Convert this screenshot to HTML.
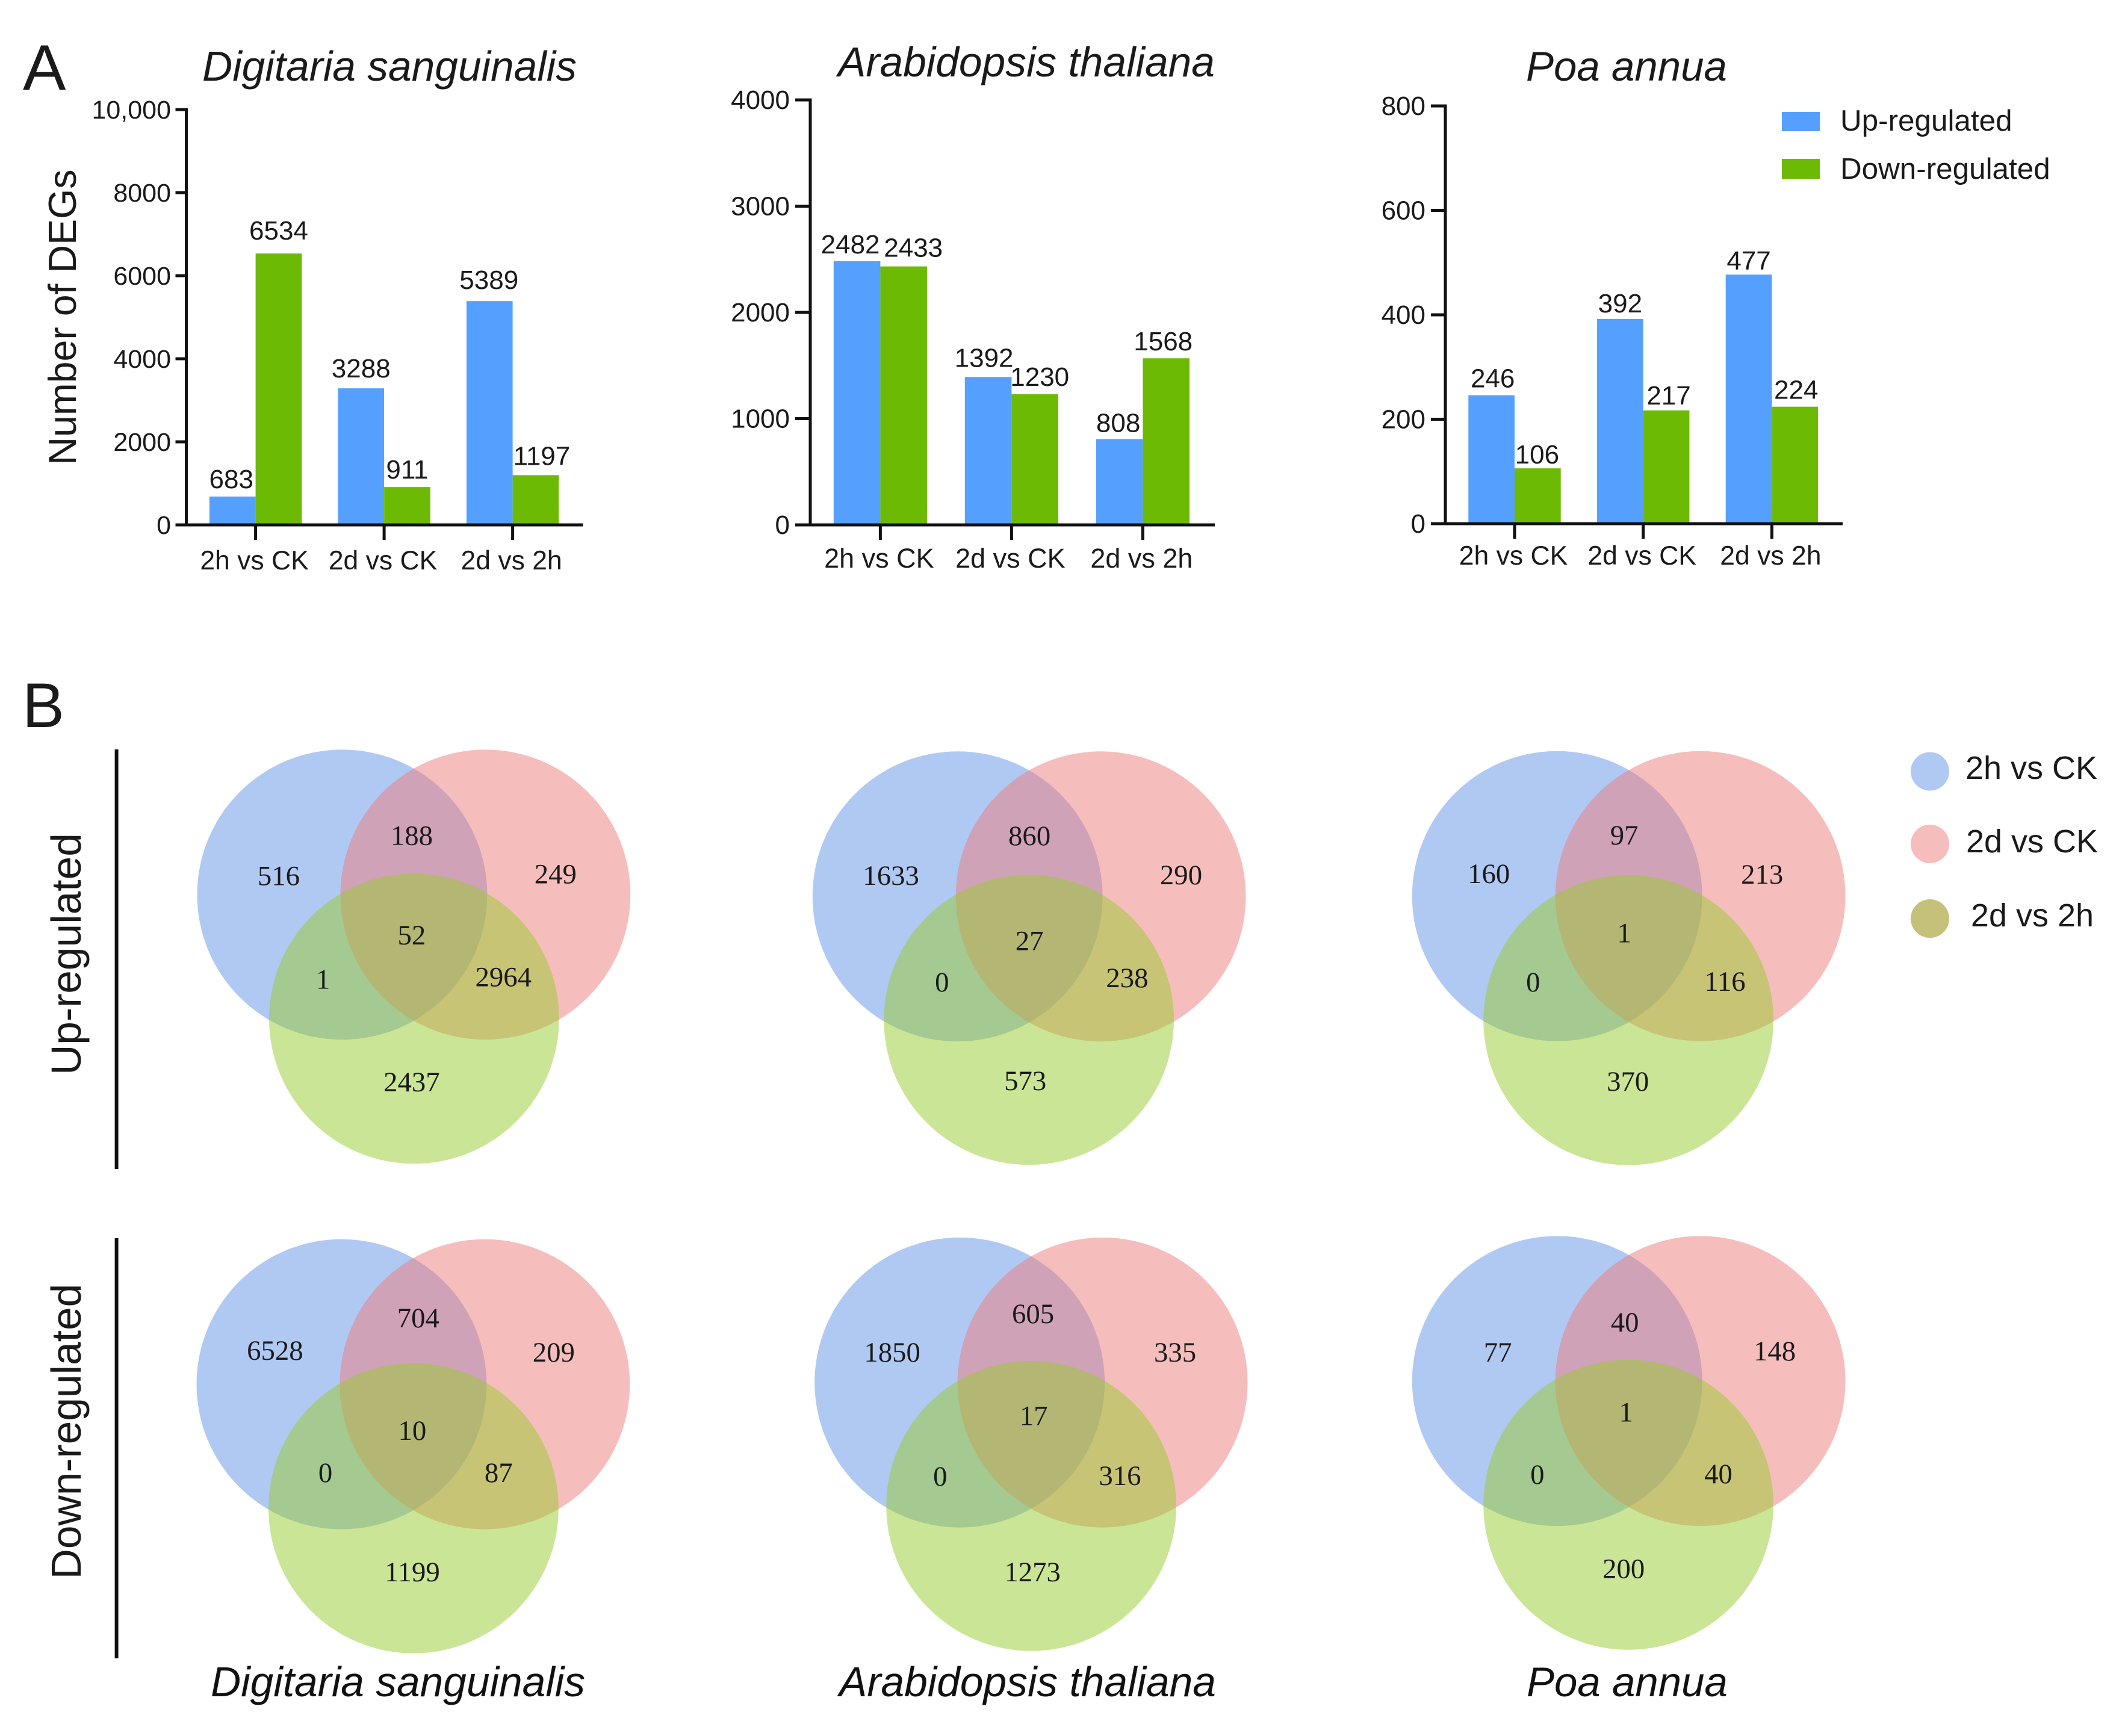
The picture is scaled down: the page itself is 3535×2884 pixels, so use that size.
<!DOCTYPE html>
<html lang="en">
<head>
<meta charset="utf-8">
<title>DEG counts and Venn diagrams</title>
<style>
html,body{margin:0;padding:0;background:#fff;}
svg{display:block;}
text{font-family:"Liberation Sans",Arial,sans-serif;fill:#1a1a1a;}
.it{font-style:italic;font-size:69.5px;fill:#111;}
.n{font-family:"Liberation Serif","Times New Roman",serif;font-size:47px;text-anchor:middle;fill:#1a1a1a;transform:translateY(-2px);}
.b{fill:#6193e7;fill-opacity:.5;}
.r{fill:#ed7b7b;fill-opacity:.5;}
.g{fill:#97cb2f;fill-opacity:.5;}
</style>
</head>
<body>
<svg id="fig" xmlns="http://www.w3.org/2000/svg" width="3535" height="2884" viewBox="0 0 3535 2884">
<rect width="3535" height="2884" fill="#fff"/>

<text x="38" y="149" font-size="107" fill="#111">A</text>
<text x="37" y="1208" font-size="105" fill="#111">B</text>

<g id="bars"></g>

<g>
<rect x="2960" y="186" width="63" height="32" fill="#55a0fe"/>
<text x="3057" y="217" font-size="49.4">Up-regulated</text>
<rect x="2960" y="264" width="63" height="33" fill="#6dba05"/>
<text x="3057" y="297" font-size="49.4">Down-regulated</text>
</g>

<line x1="193.6" y1="1245" x2="193.6" y2="1942" stroke="#111" stroke-width="6"/>
<text transform="translate(134,1585) rotate(-90)" font-size="69.5" text-anchor="middle">Up-regulated</text>
<line x1="193.6" y1="2057" x2="193.6" y2="2755" stroke="#111" stroke-width="6"/>
<text transform="translate(134,2378) rotate(-90)" font-size="69.5" text-anchor="middle">Down-regulated</text>

<g transform="translate(0,1100) scale(.9955) translate(0,-1100)">
<circle class="b" cx="571" cy="1488" r="242"/>
<circle class="r" cx="810" cy="1488" r="242"/>
<circle class="g" cx="691" cy="1695" r="242"/>
<text class="n" x="465" y="1474">516</text>
<text class="n" x="687" y="1407">188</text>
<text class="n" x="927" y="1471">249</text>
<text class="n" x="687" y="1573">52</text>
<text class="n" x="539" y="1647">1</text>
<text class="n" x="840" y="1643">2964</text>
<text class="n" x="687" y="1818">2437</text>
</g>

<g transform="translate(1300,1200) scale(.9955) translate(-1300,-1200)">
<circle class="b" cx="1592" cy="1490.5" r="242"/>
<circle class="r" cx="1831" cy="1490.5" r="242"/>
<circle class="g" cx="1711" cy="1696.5" r="242"/>
<text class="n" x="1481" y="1473">1633</text>
<text class="n" x="1712" y="1407">860</text>
<text class="n" x="1965" y="1472">290</text>
<text class="n" x="1712" y="1582">27</text>
<text class="n" x="1566" y="1651">0</text>
<text class="n" x="1875" y="1644">238</text>
<text class="n" x="1705" y="1816">573</text>
</g>

<g transform="translate(2300,1200) scale(.9955) translate(-2300,-1200)">
<circle class="b" cx="2588" cy="1490" r="242"/>
<circle class="r" cx="2827" cy="1490" r="242"/>
<circle class="g" cx="2707" cy="1697" r="242"/>
<text class="n" x="2474" y="1470">160</text>
<text class="n" x="2700" y="1406">97</text>
<text class="n" x="2930" y="1471">213</text>
<text class="n" x="2700" y="1569">1</text>
<text class="n" x="2548" y="1651">0</text>
<text class="n" x="2868" y="1650">116</text>
<text class="n" x="2706" y="1817">370</text>
</g>

<g transform="translate(0,2000) scale(.9955) translate(0,-2000)">
<circle class="b" cx="570" cy="2301" r="242"/>
<circle class="r" cx="809" cy="2301" r="242"/>
<circle class="g" cx="690" cy="2508" r="242"/>
<text class="n" x="459" y="2262">6528</text>
<text class="n" x="698" y="2208">704</text>
<text class="n" x="924" y="2265">209</text>
<text class="n" x="688" y="2396">10</text>
<text class="n" x="543" y="2466">0</text>
<text class="n" x="832" y="2466">87</text>
<text class="n" x="688" y="2632">1199</text>
</g>

<g transform="translate(1300,2020) scale(.9955) translate(-1300,-2020)">
<circle class="b" cx="1595.5" cy="2298" r="242"/>
<circle class="r" cx="1834" cy="2298" r="242"/>
<circle class="g" cx="1715" cy="2504" r="242"/>
<text class="n" x="1483" y="2265">1850</text>
<text class="n" x="1718" y="2201">605</text>
<text class="n" x="1955" y="2265">335</text>
<text class="n" x="1719" y="2371">17</text>
<text class="n" x="1563" y="2472">0</text>
<text class="n" x="1863" y="2471">316</text>
<text class="n" x="1717" y="2632">1273</text>
</g>

<g transform="translate(2300,2020) scale(.9955) translate(-2300,-2020)">
<circle class="b" cx="2588" cy="2295.5" r="242"/>
<circle class="r" cx="2827" cy="2295.5" r="242"/>
<circle class="g" cx="2707" cy="2502" r="242"/>
<text class="n" x="2489" y="2265">77</text>
<text class="n" x="2701" y="2215">40</text>
<text class="n" x="2951" y="2263">148</text>
<text class="n" x="2703" y="2365">1</text>
<text class="n" x="2555" y="2469">0</text>
<text class="n" x="2857" y="2468">40</text>
<text class="n" x="2699" y="2626">200</text>
</g>

<g>
<circle cx="3206" cy="1281.5" r="32" fill="#b0c9f3"/>
<text x="3374.5" y="1294" font-size="54" text-anchor="middle">2h vs CK</text>
<circle cx="3206" cy="1402" r="32" fill="#f6bdbd"/>
<text x="3375.5" y="1416" font-size="54" text-anchor="middle">2d vs CK</text>
<circle cx="3206" cy="1526" r="32" fill="#c5c17a"/>
<text x="3376" y="1539" font-size="54" text-anchor="middle">2d vs 2h</text>
</g>

<text class="it" x="350" y="2818">Digitaria sanguinalis</text>
<text class="it" x="1394" y="2818">Arabidopsis thaliana</text>
<text class="it" x="2536" y="2818" style="font-size:69px">Poa annua</text>
</svg>

<script>
const categories = ['2h vs CK', '2d vs CK', '2d vs 2h'];

const digitariaUp = [683, 3288, 5389];
const digitariaDown = [6534, 911, 1197];
const digitariaTicks = [0, 2000, 4000, 6000, 8000, 10000];
const digitariaTickLabels = ['0', '2000', '4000', '6000', '8000', '10,000'];

const arabidopsisUp = [2482, 1392, 808];
const arabidopsisDown = [2433, 1230, 1568];
const arabidopsisTicks = [0, 1000, 2000, 3000, 4000];
const arabidopsisTickLabels = ['0', '1000', '2000', '3000', '4000'];

const poaUp = [246, 392, 477];
const poaDown = [106, 217, 224];
const poaTicks = [0, 200, 400, 600, 800];
const poaTickLabels = ['0', '200', '400', '600', '800'];

/* Layout only: frame geometry and hand placement of printed labels. */
const panels = [
  { key: 'digitaria', title: 'Digitaria sanguinalis', titleX: 336, titleY: 134, titleSize: 69.5,
    up: digitariaUp, down: digitariaDown, ticks: digitariaTicks, tickLabels: digitariaTickLabels,
    axisX: 309.5, axisEnd: 968.5, tickLeft: 291.5, tickLabelX: 284, tickSize: 43,
    yBase: 872, yTop: 182, firstGroup: 424.6, groupStep: 213.5, barW: 76.7, catY: 946, catSize: 44.5,
    upDx: [-2, 0, -1], upGap: [14, 18, 20], downDx: [0, 0, 10], downGap: [23, 14, 17] },
  { key: 'arabidopsis', title: 'Arabidopsis thaliana', titleX: 1392, titleY: 127, titleSize: 69.5,
    up: arabidopsisUp, down: arabidopsisDown, ticks: arabidopsisTicks, tickLabels: arabidopsisTickLabels,
    axisX: 1346, axisEnd: 2018, tickLeft: 1321, tickLabelX: 1312, tickSize: 44,
    yBase: 872, yTop: 166, firstGroup: 1462.4, groupStep: 218, barW: 77.6, catY: 943, catSize: 45,
    upDx: [-11, -7, -2], upGap: [13, 17, 12], downDx: [16, 8, -5], downGap: [16, 14, 13] },
  { key: 'poa', title: 'Poa annua', titleX: 2535, titleY: 134, titleSize: 69,
    up: poaUp, down: poaDown, ticks: poaTicks, tickLabels: poaTickLabels,
    axisX: 2401, axisEnd: 3061, tickLeft: 2377, tickLabelX: 2368, tickSize: 44,
    yBase: 870, yTop: 176, firstGroup: 2516, groupStep: 213.7, barW: 76.7, catY: 938, catSize: 44.5,
    upDx: [2, 0, 0], upGap: [13, 11, 8], downDx: [-1, 4, 2], downGap: [8, 10, 13] }
];

const SVGNS = 'http://www.w3.org/2000/svg';
const AXIS_COLOR = '#111';
const AXIS_W = 5;
const UP_COLOR = '#55a0fe';
const DOWN_COLOR = '#6dba05';
const root = document.getElementById('bars');

function node(tag, parent, attrs, content) {
  const n = document.createElementNS(SVGNS, tag);
  Object.keys(attrs).forEach(function (k) { n.setAttribute(k, attrs[k]); });
  if (content !== undefined) n.textContent = content;
  parent.appendChild(n);
  return n;
}

function drawPanel(p) {
  const g = node('g', root, {});
  
  

  const maxTick = p.ticks[p.ticks.length - 1];
  const yScale = function (v) { return p.yBase - (v / maxTick) * (p.yBase - p.yTop); };
  const xScale = function (i) { return p.firstGroup + i * p.groupStep; };

  const title = node('text', g, { x: p.titleX, y: p.titleY, 'font-size': p.titleSize, 'font-style': 'italic', fill: '#111' }, p.title);
  
  

  categories.forEach(function (cat, i) {
    const cx = xScale(i);

    const upY = yScale(p.up[i]);
    const upBar = node('rect', g, { x: cx - p.barW, y: upY, width: p.barW, height: p.yBase - upY, fill: UP_COLOR });
    
    

    const downY = yScale(p.down[i]);
    const downBar = node('rect', g, { x: cx, y: downY, width: p.barW, height: p.yBase - downY, fill: DOWN_COLOR });
    
    

    const upText = node('text', g, { x: cx - p.barW / 2 + p.upDx[i], y: upY - p.upGap[i], 'font-size': 44, 'text-anchor': 'middle' }, String(p.up[i]));
    
    

    const downText = node('text', g, { x: cx + p.barW / 2 + p.downDx[i], y: downY - p.downGap[i], 'font-size': 44, 'text-anchor': 'middle' }, String(p.down[i]));
    
    

    const xTick = node('line', g, { x1: cx, x2: cx, y1: p.yBase, y2: p.yBase + 25, stroke: AXIS_COLOR, 'stroke-width': AXIS_W });
    
    

    const xLabel = node('text', g, { x: cx - 2, y: p.catY, 'font-size': p.catSize, 'text-anchor': 'middle' }, cat);
    
    
  });

  p.ticks.forEach(function (t, i) {
    const y = yScale(t);
    const yTick = node('line', g, { x1: p.tickLeft, x2: p.axisX, y1: y, y2: y, stroke: AXIS_COLOR, 'stroke-width': AXIS_W });
    
    

    const yLabel = node('text', g, { x: p.tickLabelX, y: y + 15, 'font-size': p.tickSize, 'text-anchor': 'end' }, p.tickLabels[i]);
    
    
  });

  const yAxis = node('line', g, { x1: p.axisX, x2: p.axisX, y1: p.yTop - 2.5, y2: p.yBase + 2.5, stroke: AXIS_COLOR, 'stroke-width': AXIS_W });
  
  

  const xAxis = node('line', g, { x1: p.tickLeft, x2: p.axisEnd, y1: p.yBase, y2: p.yBase, stroke: AXIS_COLOR, 'stroke-width': AXIS_W });
  
  
}

panels.forEach(drawPanel);

const yTitle = node('text', root, { transform: 'translate(126,527) rotate(-90)', 'font-size': 64.5, 'text-anchor': 'middle' }, 'Number of DEGs');


</script>
</body>
</html>
